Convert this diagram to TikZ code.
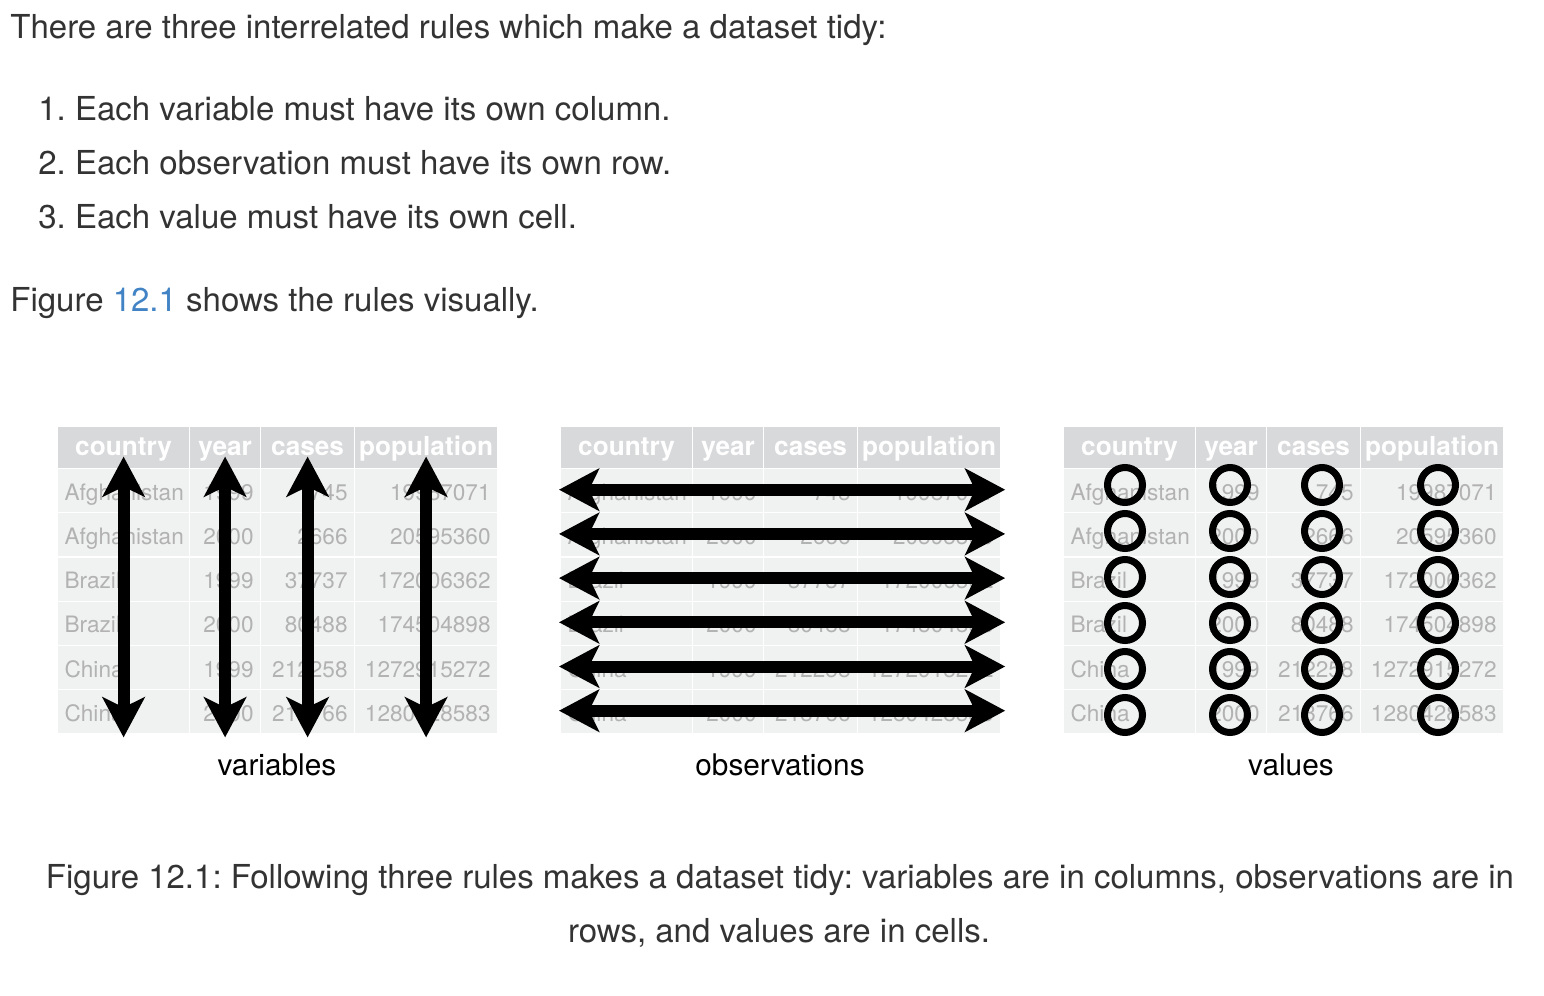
\documentclass[tikz,border=0pt]{standalone}
\usepackage{fontspec}
\setmainfont{TeX Gyre Heros}
\usetikzlibrary{arrows.meta}
\frenchspacing

\definecolor{bodytext}{RGB}{51,51,51}
\definecolor{linkblue}{RGB}{65,131,196}
\definecolor{hdrgray}{RGB}{216,217,219}
\definecolor{cellgray}{RGB}{240,241,241}
\definecolor{celltext}{RGB}{178,178,178}

\tikzset{
  hdrcell/.style={fill=hdrgray, draw=white, line width=0.6pt, inner sep=0pt,
    minimum height=21pt, text=white, font=\fontsize{13.1}{15}\selectfont\bfseries,
    text height=8pt, text depth=0pt},
  bodycell/.style={fill=cellgray, draw=white, line width=0.6pt, inner xsep=3.5pt,
    inner ysep=0pt, minimum height=22.1pt, text=celltext,
    font=\fontsize{11.3}{13}\selectfont, text height=9.5pt, text depth=0pt},
  tidyarrow/.style={line width=6pt,
    {Stealth[length=20pt,width=21pt,inset=5pt]}-{Stealth[length=20pt,width=21pt,inset=5pt]}},
  valring/.style={circle, draw, line width=3.5pt, minimum size=17.5pt, inner sep=0pt},
  para/.style={anchor=base west, text=bodytext, font=\fontsize{16.5}{20}\selectfont, inner sep=0pt},
  capline/.style={anchor=base, text=bodytext, font=\fontsize{16.5}{20}\selectfont, inner sep=0pt},
  panellabel/.style={anchor=base, font=\fontsize{14.9}{18}\selectfont, inner sep=0pt},
}

% one table of the tidy data, #1 = name prefix, #2 = x offset (px)
\newcommand{\tidytable}[2]{%
  % header
  \foreach \c/\cx/\cw/\hd in {1/0/66/country, 2/132/35.5/year, 3/203/47/cases, 4/297/71.5/population}
    \node[hdrcell, minimum width=\cw pt, anchor=north west] (#1-0-\c) at ({#2+57+\cx},426) {\hd};
  % rows
  \foreach \r/\na/\yr/\cs/\pp in {1/Afghanistan/1999/745/19987071,
      2/Afghanistan/2000/2666/20595360, 3/Brazil/1999/37737/172006362,
      4/Brazil/2000/80488/174504898, 5/China/1999/212258/1272915272,
      6/China/2000/213766/1280428583}{
    \node[bodycell, text width=59pt, align=left, anchor=north west] (#1-\r-1) at ({#2+57},{468+(\r-1)*44.2}) {\na};
    \node[bodycell, text width=28.5pt, align=right, anchor=north west] (#1-\r-2) at ({#2+189},{468+(\r-1)*44.2}) {\yr};
    \node[bodycell, text width=40pt, align=right, anchor=north west] (#1-\r-3) at ({#2+260},{468+(\r-1)*44.2}) {\cs};
    \node[bodycell, text width=64.5pt, align=right, anchor=north west] (#1-\r-4) at ({#2+354},{468+(\r-1)*44.2}) {\pp};
  }
}

\begin{document}
\begin{tikzpicture}[x=0.5pt, y=-0.5pt]
\useasboundingbox (0,0) rectangle (1544,996);

% text above the figure
\node[para] (intro) at (10,38) {There are three interrelated rules which make a dataset tidy:};
\node[para] (rule1) at (38,120) {1. Each variable must have its own column.};
\node[para] (rule2) at (38,174) {2. Each observation must have its own row.};
\node[para] (rule3) at (38,228) {3. Each value must have its own cell.};
\node[para] (figref) at (10,311) {Figure \textcolor{linkblue}{12.1} shows the rules visually.};

% the three tables
\tidytable{v}{0}
\tidytable{o}{503}
\tidytable{c}{1006}

% variables: one arrow per column
\foreach \c in {1,...,4}
  \draw[tidyarrow] ([yshift=-4.5pt]v-0-\c.center) -- ([yshift=-1.5pt]v-6-\c.south);

% observations: one arrow per row
\foreach \r in {1,...,6}
  \draw[tidyarrow] ([xshift=-0.5pt,yshift=0.5pt]o-\r-1.west) -- ([xshift=2pt,yshift=0.5pt]o-\r-4.east);

% values: one ring per cell
\foreach \r in {1,...,6}
  \foreach \c/\rx in {1/119, 2/224, 3/316, 4/432}
    \node[valring] (ring-\r-\c) at ({1006+\rx},{485+(\r-1)*46}) {};

% panel labels
\node[panellabel] (lbl-var) at (277,775) {variables};
\node[panellabel] (lbl-obs) at (780,775) {observations};
\node[panellabel] (lbl-val) at (1291,775) {values};

% caption
\node[capline] (cap1) at (780,888) {Figure 12.1: Following three rules makes a dataset tidy: variables are in columns, observations are in};
\node[capline] (cap2) at (779,942) {rows, and values are in cells.};

\end{tikzpicture}
\end{document}
